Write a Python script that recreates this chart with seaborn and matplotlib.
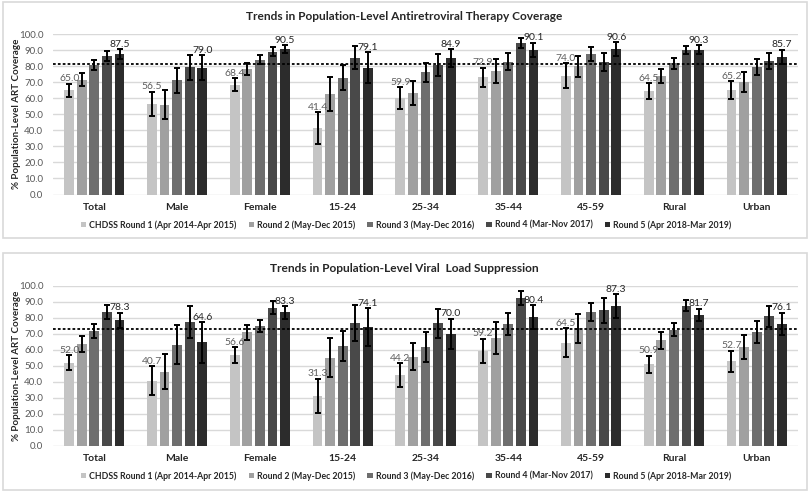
import matplotlib
matplotlib.use("Agg")
import matplotlib.pyplot as plt
from matplotlib.patches import Rectangle, Patch
from matplotlib.container import BarContainer
import seaborn as sns
import pandas as pd

categories = ["Total", "Male", "Female", "15-24", "25-34", "35-44", "45-59", "Rural", "Urban"]
rounds = ["CHDSS Round 1 (Apr 2014-Apr 2015)", "Round 2 (May-Dec 2015)",
          "Round 3 (May-Dec 2016)", "Round 4 (Mar-Nov 2017)", "Round 5 (Apr 2018-Mar 2019)"]

# ART coverage
art_r1 = [65.0, 56.5, 68.4, 41.4, 59.9, 72.9, 74.0, 64.5, 65.2]
art_r2 = [71.5, 56.0, 78.2, 62.6, 63.0, 77.1, 79.8, 73.6, 70.1]
art_r3 = [80.8, 71.1, 84.0, 72.6, 76.1, 82.7, 87.7, 81.7, 79.6]
art_r4 = [86.2, 79.4, 88.8, 85.2, 80.7, 94.4, 82.5, 90.2, 83.2]
art_r5 = [87.5, 79.0, 90.5, 79.1, 84.9, 90.1, 90.6, 90.3, 85.7]
art_e1 = [4.0, 7.6, 4.0, 10.0, 6.9, 6.2, 7.7, 4.8, 5.4]
art_e2 = [4.0, 9.0, 3.6, 10.7, 7.5, 7.4, 6.5, 4.4, 6.0]
art_e3 = [3.0, 7.8, 2.7, 7.8, 5.9, 5.2, 4.4, 3.4, 5.0]
art_e4 = [3.3, 7.8, 2.8, 7.3, 6.8, 3.3, 5.7, 2.5, 4.9]
art_e5 = [3.0, 7.8, 2.5, 9.4, 5.6, 4.6, 4.3, 2.6, 4.5]
art_target = 81.0

# Viral load suppression
vls_r1 = [52.0, 40.7, 56.6, 31.3, 44.2, 59.2, 64.5, 50.9, 52.7]
vls_r2 = [63.5, 46.3, 70.8, 55.0, 55.6, 67.3, 73.3, 66.0, 61.7]
vls_r3 = [71.9, 63.1, 74.8, 62.3, 61.7, 75.8, 83.3, 72.5, 71.3]
vls_r4 = [83.3, 77.3, 86.3, 76.9, 76.5, 92.5, 84.6, 87.5, 81.0]
vls_r5 = [78.3, 64.6, 83.3, 74.1, 70.0, 80.4, 87.3, 81.7, 76.1]
vls_e1 = [4.5, 8.9, 5.0, 10.7, 7.2, 7.7, 9.0, 5.3, 6.5]
vls_e2 = [5.1, 11.0, 4.8, 12.3, 8.4, 9.8, 9.0, 5.3, 7.5]
vls_e3 = [4.4, 12.3, 3.9, 9.6, 9.5, 6.9, 5.6, 3.9, 6.8]
vls_e4 = [4.4, 9.9, 4.0, 11.2, 8.9, 4.4, 7.8, 3.3, 6.5]
vls_e5 = [4.8, 12.6, 3.8, 11.9, 9.5, 7.5, 7.4, 4.0, 7.0]
vls_target = 72.9

titles = ["Trends in Population-Level Antiretroviral Therapy Coverage",
          "Trends in Population-Level Viral  Load Suppression"]
ylabel = "% Population-Level ART Coverage"
yticks = [0, 10, 20, 30, 40, 50, 60, 70, 80, 90, 100]

colors = ["#c4c4c4", "#a0a0a0", "#6e6e6e", "#494949", "#2c2c2c"]

sns.set_theme(style="white")
plt.rcParams["font.family"] = ["Lato", "DejaVu Sans"]

W, H = 810, 492
fig = plt.figure(figsize=(W / 100, H / 100), dpi=100)

def fx(px):
    return px / W

def fy(py):
    return 1 - py / H

panels = [
    dict(vals=[art_r1, art_r2, art_r3, art_r4, art_r5],
         errs=[art_e1, art_e2, art_e3, art_e4, art_e5],
         target=art_target, title=titles[0],
         box=(3, 2, 807, 238), ax_top=34.0, ax_bot=194.5, title_y=16, leg_y=225),
    dict(vals=[vls_r1, vls_r2, vls_r3, vls_r4, vls_r5],
         errs=[vls_e1, vls_e2, vls_e3, vls_e4, vls_e5],
         target=vls_target, title=titles[1],
         box=(3, 253, 807, 490), ax_top=285.7, ax_bot=445.7, title_y=268, leg_y=476),
]

ax_left, ax_right = 53, 798

for p in panels:
    rows = []
    for r, vals in zip(rounds, p["vals"]):
        for c, v in zip(categories, vals):
            rows.append({"category": c, "round": r, "value": v})
    df = pd.DataFrame(rows)

    ax = fig.add_axes([fx(ax_left), fy(p["ax_bot"]), fx(ax_right - ax_left),
                       (p["ax_bot"] - p["ax_top"]) / H])
    sns.barplot(data=df, x="category", y="value", hue="round", order=categories,
                hue_order=rounds, palette=colors, width=0.76, gap=0.22,
                errorbar=None, legend=False, saturation=1, ax=ax, zorder=2,
                edgecolor="none")

    bar_conts = [c for c in ax.containers if isinstance(c, BarContainer)]
    for k, cont in enumerate(bar_conts):
        xs = [b.get_x() + b.get_width() / 2 for b in cont.patches]
        vals = p["vals"][k]
        errs = p["errs"][k]
        ax.errorbar(xs, vals, yerr=errs, fmt="none", ecolor="black",
                    elinewidth=1.4, capsize=2.3, capthick=1.4, zorder=4)
        if k == 0 or k == 4:
            col = "#5f5f5f" if k == 0 else "#262626"
            for x, v, e in zip(xs, vals, errs):
                ax.text(x, v + e + 0.3, f"{v:.1f}", ha="center", va="bottom",
                        fontsize=7.5, color=col, zorder=5)

    ax.axhline(p["target"], color="black", linestyle=(0, (1.5, 1.2)), lw=1.3, zorder=3)

    ax.set_xlim(-0.5, len(categories) - 0.5)
    ax.set_ylim(0, 100)
    ax.set_yticks(yticks)
    ax.set_yticklabels([f"{t:.1f}" for t in yticks], fontsize=7, color="#595959")
    ax.tick_params(axis="y", length=0, pad=7)
    ax.tick_params(axis="x", length=0, pad=6)
    for lab in ax.get_xticklabels():
        lab.set_fontweight("bold")
        lab.set_fontsize(7.5)
        lab.set_color("#262626")
    ax.set_xlabel("")
    ax.set_ylabel(ylabel, fontsize=7.0, fontweight="bold", color="#262626")
    ax.yaxis.set_label_coords(-(ax_left - 21) / (ax_right - ax_left), 0.5)
    ax.grid(axis="y", color="#d9d9d9", lw=1, zorder=0)
    ax.set_axisbelow(True)
    for s in ax.spines.values():
        s.set_visible(False)

    handles = [Patch(facecolor=c, edgecolor="none") for c in colors]
    fig.legend(handles, rounds, loc="center", bbox_to_anchor=(fx(406), fy(p["leg_y"])),
               ncol=5, frameon=False, handlelength=0.6, handleheight=0.6,
               handletextpad=0.35, columnspacing=1.4, borderaxespad=0, borderpad=0,
               prop={"weight": "bold", "size": 6.3, "family": ["Lato", "DejaVu Sans"]})

    fig.text(fx(404), fy(p["title_y"]), p["title"], ha="center", va="center",
             fontsize=8.6, fontweight="bold", color="#262626")

    x0, y0, x1, y1 = p["box"]
    fig.add_artist(Rectangle((fx(x0), fy(y1)), fx(x1 - x0), (y1 - y0) / H,
                             transform=fig.transFigure, fill=False,
                             edgecolor="#d9d9d9", lw=1.2))

fig.savefig("out.png", dpi=100, facecolor="white")
